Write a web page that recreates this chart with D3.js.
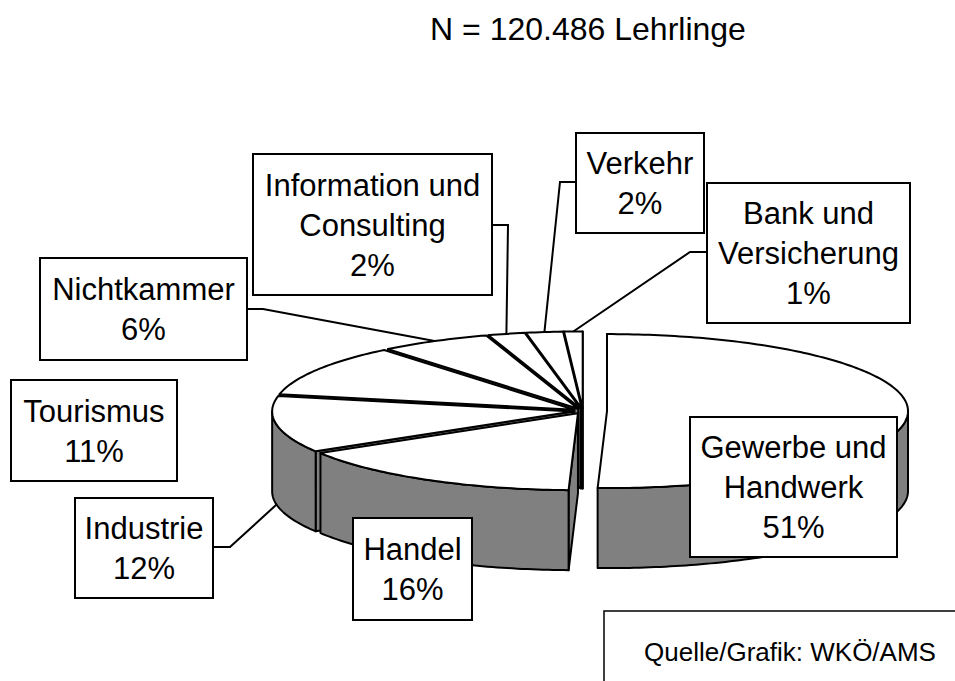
<!DOCTYPE html>
<html lang="de">
<head>
<meta charset="utf-8">
<script src="https://d3js.org/d3.v7.min.js"></script>
<style>
  body { margin: 0; background: #fff; }
  text { font-family: Arial, "Liberation Sans", sans-serif; fill: #000; }
</style>
</head>
<body>
<svg width="955" height="681"></svg>
<script>
// --- data ---
const categories = ["Gewerbe und Handwerk", "Handel", "Industrie", "Tourismus",
                    "Nichtkammer", "Information und Consulting", "Verkehr", "Bank und Versicherung"];
const shares = [51, 16, 12, 11, 6, 2, 2, 1];
// how each category name is broken into lines inside its box
const labelLines = [["Gewerbe und", "Handwerk"], ["Handel"], ["Industrie"], ["Tourismus"],
                    ["Nichtkammer"], ["Information und", "Consulting"], ["Verkehr"], ["Bank und", "Versicherung"]];
const title = "N = 120.486 Lehrlinge";
const source = "Quelle/Grafik: WKÖ/AMS";

// --- layout ---
const cx = 583, cy = 411, rx = 301, ry = 77, depth = 80;
const explode = [24, 10, 10, 10, 10, 10, 10, 10];
// label boxes: x, y, w, h
const boxes = [
  [690, 417, 207, 140],
  [353, 518, 119, 102],
  [75, 498, 138, 100],
  [11, 380, 166, 101],
  [40, 258, 207, 102],
  [253, 154, 239, 141],
  [576, 133, 128, 100],
  [707, 183, 203, 140]
];
// leader lines: which side of the box, height on the box, elbow x, attach to top (0) or bottom of pie
const leaders = [null, null,
  {side: "right", y: 547, ex: 230, h: depth},
  null,
  {side: "right", y: 309, ex: 263, h: 0},
  {side: "right", y: 225, ex: 508, h: 0},
  {side: "left", y: 182, ex: 560, h: 0},
  {side: "left", y: 252, ex: 690, h: 0}];

const svg = d3.select("svg");

const arcs = d3.pie().sort(null).value(d => d)(shares);

// project an angle (clockwise from 12 o'clock) onto the tilted ellipse
function P(a, r, h, off) {
  return [cx + off[0] + r * rx * Math.sin(a), cy + off[1] - r * ry * Math.cos(a) + h];
}
function arcPts(a0, a1, h, off) {
  const n = Math.max(2, Math.ceil((a1 - a0) / (Math.PI / 180)));
  return d3.range(n + 1).map(i => P(a0 + (a1 - a0) * i / n, 1, h, off));
}
const line = d3.line().curve(d3.curveLinearClosed);

const sides = [], tops = [];
arcs.forEach((d, i) => {
  const mid = (d.startAngle + d.endAngle) / 2;
  const e = explode[i];
  const off = [e * Math.sin(mid), -e * Math.cos(mid) * ry / rx];
  d.off = off; d.mid = mid;
  const c = P(0, 0, 0, off);

  // outer wall, only the part facing us
  const lo = Math.max(d.startAngle, Math.PI / 2), hi = Math.min(d.endAngle, 3 * Math.PI / 2);
  if (hi > lo) {
    const t = arcPts(lo, hi, 0, off), b = arcPts(lo, hi, depth, off).reverse();
    sides.push({pts: t.concat(b), key: d3.mean(t, p => p[1])});
  }
  // cut faces
  [[d.startAngle, -Math.sin(d.startAngle)], [d.endAngle, Math.sin(d.endAngle)]].forEach(([a, nv]) => {
    if (nv > -1e-6) {
      const ed = P(a, 1, 0, off);
      sides.push({pts: [c, ed, [ed[0], ed[1] + depth], [c[0], c[1] + depth]], key: (c[1] + ed[1]) / 2});
    }
  });
  tops.push([c].concat(arcPts(d.startAngle, d.endAngle, 0, off)));
});

sides.sort((a, b) => a.key - b.key);

const pie = svg.append("g");
pie.selectAll("path.side").data(sides).enter().append("path")
  .attr("class", "side")
  .attr("d", s => line(s.pts))
  .attr("fill", "#808080")
  .attr("stroke", "#000")
  .attr("stroke-width", 2)
  .attr("stroke-linejoin", "round");
pie.selectAll("path.top").data(tops).enter().append("path")
  .attr("class", "top")
  .attr("d", t => line(t))
  .attr("fill", "#fff")
  .attr("stroke", "#000")
  .attr("stroke-width", 2)
  .attr("stroke-linejoin", "round");

// leader lines
arcs.forEach((d, i) => {
  const l = leaders[i];
  if (!l) return;
  const b = boxes[i];
  const bx = l.side === "right" ? b[0] + b[2] : b[0];
  const end = P(d.mid, 1, l.h, d.off);
  svg.append("path")
    .attr("d", d3.line()([[bx, l.y], [l.ex, l.y], end]))
    .attr("fill", "none")
    .attr("stroke", "#000")
    .attr("stroke-width", 2);
});

// label boxes
const lab = svg.selectAll("g.lab").data(arcs).enter().append("g").attr("class", "lab");
lab.append("rect")
  .attr("x", (d, i) => boxes[i][0])
  .attr("y", (d, i) => boxes[i][1])
  .attr("width", (d, i) => boxes[i][2])
  .attr("height", (d, i) => boxes[i][3])
  .attr("fill", "#fff")
  .attr("stroke", "#000")
  .attr("stroke-width", 2);
lab.each(function (d, i) {
  const b = boxes[i];
  const lines = labelLines[i].concat([shares[i] + "%"]);
  const y0 = b[1] + b[3] / 2 - (lines.length - 1) * 20 + 11;
  d3.select(this).selectAll("text").data(lines).enter().append("text")
    .attr("x", b[0] + b[2] / 2)
    .attr("y", (t, k) => y0 + k * 40)
    .attr("text-anchor", "middle")
    .style("font-size", "31px")
    .text(t => t);
});

// title
svg.append("text")
  .attr("x", 588).attr("y", 40)
  .attr("text-anchor", "middle")
  .style("font-size", "32px")
  .text(title);

// source box
svg.append("rect")
  .attr("x", 604).attr("y", 611).attr("width", 360).attr("height", 80)
  .attr("fill", "#fff").attr("stroke", "#000").attr("stroke-width", 1.5);
svg.append("text")
  .attr("x", 790).attr("y", 661)
  .attr("text-anchor", "middle")
  .style("font-size", "26px")
  .text(source);
</script>
</body>
</html>
